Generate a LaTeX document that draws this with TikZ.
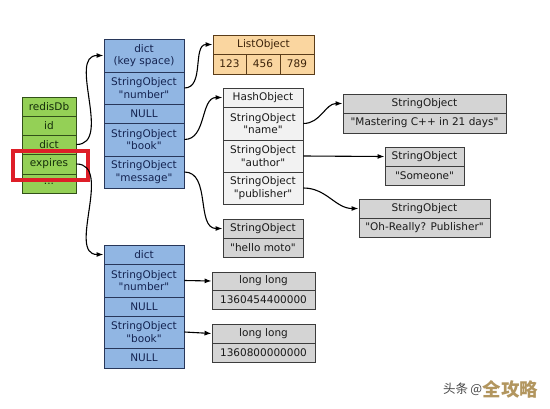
\documentclass[tikz,border=0pt]{standalone}
\usepackage{fontspec}
\setmainfont{DejaVu Sans}[Ligatures=TeXOff]
\newfontfamily\cjkfont{Noto Sans CJK SC}
\usetikzlibrary{arrows.meta}
\definecolor{gfill}{RGB}{148,208,86}
\definecolor{gline}{RGB}{50,80,25}
\definecolor{gtext}{RGB}{20,45,10}
\definecolor{bfill}{RGB}{145,182,227}
\definecolor{bline}{RGB}{40,55,90}
\definecolor{btext}{RGB}{20,35,80}
\definecolor{ofill}{RGB}{250,214,160}
\definecolor{oline}{RGB}{90,60,25}
\definecolor{otext}{RGB}{60,35,10}
\definecolor{kfill}{RGB}{212,212,212}
\definecolor{wfill}{RGB}{242,242,242}
\definecolor{kline}{RGB}{60,60,60}
\definecolor{ktext}{RGB}{25,25,25}
\definecolor{redmark}{RGB}{222,30,40}
\definecolor{wmgray}{RGB}{70,70,70}
\definecolor{wmgold}{RGB}{178,150,95}
\newcommand\cellnode[7]{%
  \node[#6, minimum width={#4pt-#2pt}, minimum height={#5pt-#3pt}]
    (#1) at ({(#2+#4)/2},{(#3+#5)/2}) {#7};}
\tikzset{
  cellbase/.style={draw, rectangle, inner sep=0pt, align=center, line width=0.9pt,
    font=\fontsize{10.5}{12.3}\selectfont},
  greencell/.style={cellbase, fill=gfill, draw=gline, text=gtext},
  bluecell/.style={cellbase, fill=bfill, draw=bline, text=btext},
  orangecell/.style={cellbase, fill=ofill, draw=oline, text=otext},
  graycell/.style={cellbase, fill=kfill, draw=kline, text=ktext},
  whitecell/.style={cellbase, fill=wfill, draw=kline, text=ktext},
  link/.style={line width=1.1pt, draw=black, -{Latex[length=7pt,width=5pt]}},
}
\begin{document}
\begin{tikzpicture}[x=1pt,y=-1pt]
\useasboundingbox (0,0) rectangle (550,408);
% redisDb
\cellnode{rdb}{22}{97}{76}{116}{greencell}{redisDb}
\cellnode{rid}{22}{116}{76}{135}{greencell}{id}
\cellnode{rdict}{22}{135}{76}{154}{greencell}{dict}
\cellnode{rexp}{22}{154}{76}{174}{greencell}{expires}
\cellnode{rdots}{22}{174}{76}{193}{greencell}{...}
% key space dict
\cellnode{kshead}{104}{39}{184}{72}{bluecell}{dict\\(key space)}
\cellnode{ksnum}{104}{72}{184}{104}{bluecell}{StringObject\\"number"}
\cellnode{ksnull}{104}{104}{184}{123}{bluecell}{NULL}
\cellnode{ksbook}{104}{123}{184}{156}{bluecell}{StringObject\\"book"}
\cellnode{ksmsg}{104}{156}{184}{188}{bluecell}{StringObject\\"message"}
% ListObject
\cellnode{lohead}{213}{35}{314}{54}{orangecell}{ListObject}
\cellnode{loa}{213}{54}{246}{74}{orangecell}{123}
\cellnode{lob}{246}{54}{280}{74}{orangecell}{456}
\cellnode{loc}{280}{54}{314}{74}{orangecell}{789}
% HashObject
\cellnode{hohead}{223}{88}{303}{107}{whitecell}{HashObject}
\cellnode{honame}{223}{107}{303}{140}{whitecell}{StringObject\\"name"}
\cellnode{hoauth}{223}{140}{303}{172}{whitecell}{StringObject\\"author"}
\cellnode{hopub}{223}{172}{303}{204}{whitecell}{StringObject\\"publisher"}
% string values
\cellnode{mahead}{343}{94}{506}{113}{graycell}{StringObject}
\cellnode{maval}{343}{113}{506}{133}{graycell}{"Mastering C++ in 21 days"}
\cellnode{sohead}{385}{147}{464}{166}{graycell}{StringObject}
\cellnode{soval}{385}{166}{464}{185}{graycell}{"Someone"}
\cellnode{orhead}{359}{199}{490}{218}{graycell}{StringObject}
\cellnode{orval}{359}{218}{490}{237}{graycell}{"Oh-Really? Publisher"}
\cellnode{hmhead}{223}{219}{303}{238}{graycell}{StringObject}
\cellnode{hmval}{223}{238}{303}{257}{graycell}{"hello moto"}
% expires dict
\cellnode{exhead}{104}{245}{184}{264}{bluecell}{dict}
\cellnode{exnum}{104}{264}{184}{297}{bluecell}{StringObject\\"number"}
\cellnode{exnulla}{104}{297}{184}{316}{bluecell}{NULL}
\cellnode{exbook}{104}{316}{184}{348}{bluecell}{StringObject\\"book"}
\cellnode{exnullb}{104}{348}{184}{368}{bluecell}{NULL}
% long long
\cellnode{llahead}{212}{272}{315}{290}{graycell}{long long}
\cellnode{llaval}{212}{290}{315}{309}{graycell}{1360454400000}
\cellnode{llbhead}{212}{324}{315}{343}{graycell}{long long}
\cellnode{llbval}{212}{343}{315}{362}{graycell}{1360800000000}
% red highlight
\node[draw=redmark, line width=3.6pt, rectangle, inner sep=0pt,
  minimum width=75pt, minimum height=29pt] (hilite) at (50.5,165.5) {};
% connectors
\draw[link] (rdict.east) to[out=0,in=180] (kshead.west);
\draw[link] (rexp.east) to[out=0,in=180] (exhead.west);
\draw[link] (ksnum.east) to[out=0,in=180] (lohead.west);
\draw[link] (ksbook.east) to[out=0,in=180] (hohead.west);
\draw[link] (ksmsg.east) to[out=0,in=180] (hmhead.west);
\draw[link] (honame.east) to[out=0,in=180] (mahead.west);
\draw[link] (hoauth.east) -- (sohead.west);
\draw[link] (hopub.east) to[out=0,in=180] (orhead.west);
\draw[link] (exnum.east) -- (llahead.west);
\draw[link] (exbook.east) -- (llbhead.west);
% watermark
\node[anchor=west, inner sep=0pt, text=wmgray, font=\cjkfont\fontsize{12.5}{12.5}\selectfont]
  (wma) at (443,389) {头条\,@};
\node[anchor=west, inner sep=0pt, text=wmgold, font=\cjkfont\bfseries\fontsize{18.5}{18.5}\selectfont]
  (wmb) at (wma.east) {全攻略};
\end{tikzpicture}
\end{document}
